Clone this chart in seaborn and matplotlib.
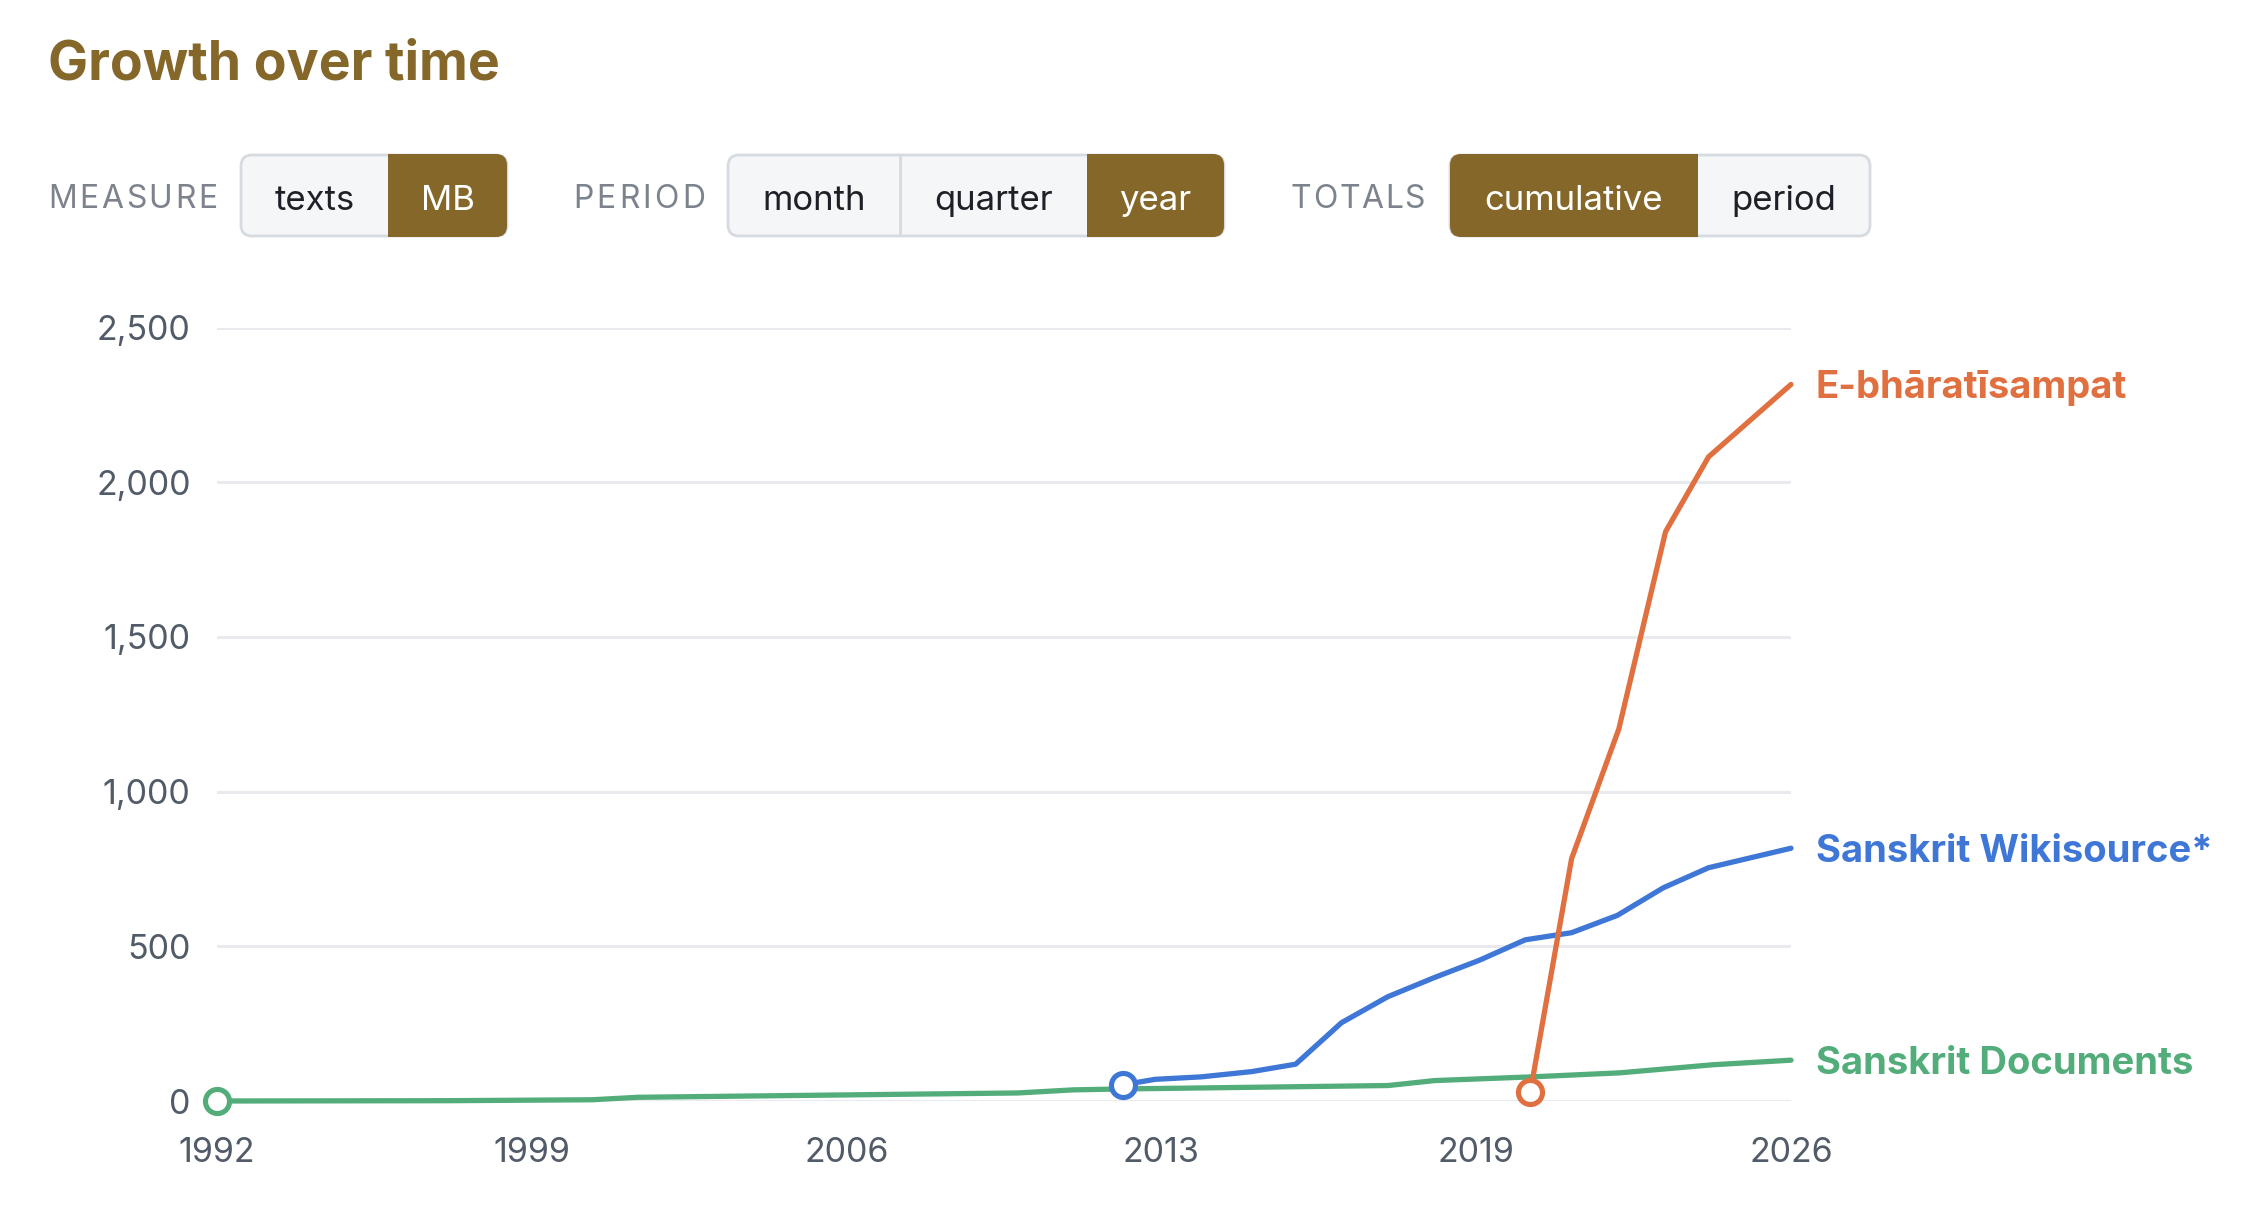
import numpy as np
import pandas as pd
import matplotlib
matplotlib.use("Agg")
import matplotlib.pyplot as plt
import seaborn as sns
from matplotlib.patches import FancyBboxPatch, Rectangle
from matplotlib.font_manager import FontProperties

# ---------------- data ----------------
series_names = ["Sanskrit Documents", "Sanskrit Wikisource*", "E-bhāratīsampat"]

docs_year = [1992.0, 1997.0, 2000.1, 2001.1, 2009.3, 2010.5, 2011.6, 2017.3, 2018.3,
             2020.4, 2022.3, 2023.3, 2024.3, 2026.0]
docs_mb = [0, 1, 4, 12, 26, 36, 39, 50, 66, 78, 91, 104, 117, 132]

wiki_year = [2011.56, 2012.26, 2013.26, 2014.35, 2015.3, 2016.29, 2017.29, 2018.28,
             2019.27, 2020.26, 2021.26, 2022.25, 2023.24, 2024.22, 2026.0]
wiki_mb = [52, 70, 78, 95, 119, 253, 337, 398, 455, 521, 544, 600, 689, 754, 817]

ebh_year = [2020.37, 2021.26, 2022.28, 2023.29, 2024.22, 2026.0]
ebh_mb = [30, 783, 1202, 1840, 2082, 2316]

y_ticks = [0, 500, 1000, 1500, 2000, 2500]
x_tick_labels = ["1992", "1999", "2006", "2013", "2019", "2026"]

title_text = "Growth over time"
control_groups = [
    ("MEASURE", ["texts", "MB"], 1),
    ("PERIOD", ["month", "quarter", "year"], 2),
    ("TOTALS", ["cumulative", "period"], 0),
]

# ---------------- styling ----------------
colors = {"Sanskrit Documents": "#52ad7b",
          "Sanskrit Wikisource*": "#3f77d6",
          "E-bhāratīsampat": "#e07040"}
BROWN = "#85672a"
GRID = "#e9eaee"
TICK = "#525b68"
LABEL_GRAY = "#7d838d"

W, H, DPI = 2264, 1206, 100
sns.set_theme(style="white")
plt.rcParams["font.family"] = ["Inter", "DejaVu Sans"]

fig = plt.figure(figsize=(W / DPI, H / DPI), dpi=DPI)
fig.patch.set_facecolor("white")

ui = fig.add_axes([0, 0, 1, 1])
ui.set_xlim(0, W)
ui.set_ylim(H, 0)
ui.axis("off")

ax_l, ax_r, ax_t, ax_b = 217, 1791, 327.5, 1101
ax = fig.add_axes([ax_l / W, 1 - ax_b / H, (ax_r - ax_l) / W, (ax_b - ax_t) / H])
ax.patch.set_alpha(0)

# ---------------- lines ----------------
df = pd.concat([
    pd.DataFrame({"year": docs_year, "mb": docs_mb, "source": series_names[0]}),
    pd.DataFrame({"year": wiki_year, "mb": wiki_mb, "source": series_names[1]}),
    pd.DataFrame({"year": ebh_year, "mb": ebh_mb, "source": series_names[2]}),
], ignore_index=True)

sns.lineplot(data=df, x="year", y="mb", hue="source", hue_order=series_names,
             palette=colors, linewidth=3.8, legend=False, sort=False,
             estimator=None, ax=ax, solid_capstyle="round",
             solid_joinstyle="round", clip_on=False)

for name in series_names:
    sub = df[df["source"] == name]
    sns.scatterplot(x=[sub["year"].iloc[0]], y=[sub["mb"].iloc[0]], ax=ax,
                    color="white", edgecolor=colors[name], s=300, linewidth=3.7,
                    zorder=5, clip_on=False, legend=False)
    ax.annotate(name, (sub["year"].iloc[-1], sub["mb"].iloc[-1]),
                xytext=(25, -4), textcoords="offset pixels", va="center",
                ha="left", color=colors[name], fontsize=27.5, fontweight="bold",
                annotation_clip=False)

ax.set_xlim(1992, 2026)
ax.set_ylim(0, 2500)
ax.set_xticks(np.linspace(1992, 2026, len(x_tick_labels)))
ax.set_xticklabels(x_tick_labels)
ax.set_yticks(y_ticks)
ax.set_yticklabels([f"{v:,}" for v in y_ticks])
ax.grid(axis="y", color=GRID, linewidth=2.2)
ax.grid(axis="x", visible=False)
ax.set_axisbelow(True)
for s in ax.spines.values():
    s.set_visible(False)
ax.tick_params(axis="x", length=0, pad=26, labelsize=24.5, labelcolor=TICK)
ax.tick_params(axis="y", length=0, pad=19, labelsize=24.5, labelcolor=TICK)
ax.set_xlabel("")
ax.set_ylabel("")

# ---------------- title & controls ----------------
ui.text(48, 79, title_text, fontsize=38.5, fontweight="bold", color=BROWN,
        ha="left", va="baseline")

renderer = fig.canvas.get_renderer()


def spaced_text(x0, x1, y, text, size, color):
    fp = FontProperties(family=["Inter", "DejaVu Sans"], size=size)
    def width(s):
        w, h, d = renderer.get_text_width_height_descent(s, fp, ismath=False)
        return w
    natural = width(text)
    sp = (x1 - x0 - natural) / (len(text) - 1)
    for i, ch in enumerate(text):
        xi = x0 + (width(text[:i]) if i else 0) + i * sp
        ui.text(xi, y, ch, fontproperties=fp, color=color, ha="left", va="baseline")


label_spans = [(48, 217), (573, 705), (1291, 1425)]
seg_bounds = [[241, 388, 507], [728, 900, 1087, 1224], [1450, 1698, 1870]]
by0, by1 = 155, 236
rad = 11

for (label, opts, sel), (lx0, lx1), bounds in zip(control_groups, label_spans, seg_bounds):
    spaced_text(lx0, lx1, 208, label, 23, LABEL_GRAY)
    gx0, gx1 = bounds[0], bounds[-1]
    ui.add_patch(FancyBboxPatch((gx0, by0), gx1 - gx0, by1 - by0,
                                boxstyle=f"round,pad=0,rounding_size={rad}",
                                facecolor="#f5f6f8", edgecolor="#d6dae1",
                                linewidth=2.0, zorder=1))
    # selected segment
    sx0, sx1 = bounds[sel], bounds[sel + 1]
    ui.add_patch(FancyBboxPatch((sx0, by0 - 1), sx1 - sx0, by1 - by0 + 2,
                                boxstyle=f"round,pad=0,rounding_size={rad}",
                                facecolor=BROWN, edgecolor="none", zorder=2))
    if sel > 0:
        ui.add_patch(Rectangle((sx0, by0 - 1), rad + 2, by1 - by0 + 2,
                               facecolor=BROWN, edgecolor="none", zorder=2))
    if sel < len(opts) - 1:
        ui.add_patch(Rectangle((sx1 - rad - 2, by0 - 1), rad + 2, by1 - by0 + 2,
                               facecolor=BROWN, edgecolor="none", zorder=2))
    # separators
    for i in range(1, len(opts)):
        if i != sel and i != sel + 1:
            ui.plot([bounds[i], bounds[i]], [by0 + 1, by1 - 1], color="#d6dae1",
                    linewidth=2.0, zorder=1.5)
    for i, opt in enumerate(opts):
        cx = (bounds[i] + bounds[i + 1]) / 2
        ui.text(cx, 210, opt, fontsize=25, ha="center", va="baseline",
                color="white" if i == sel else "#1d2127", zorder=3)

fig.savefig("out.png", dpi=DPI, facecolor="white")
